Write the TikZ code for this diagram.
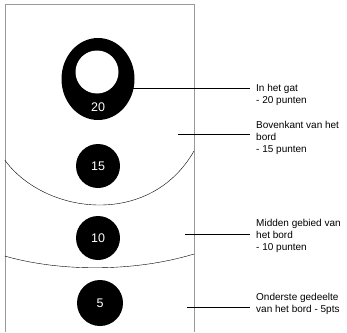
\documentclass[tikz,border=0pt]{standalone}
\usepackage{fontspec}
\setmainfont{Liberation Sans}
\usetikzlibrary{shapes.geometric}

\begin{document}
\begin{tikzpicture}[x=1pt,y=-1pt,
  schijf/.style={circle,fill=black,minimum size=44pt,inner sep=0pt,text=white,font=\fontsize{12.5}{14}\selectfont},
  uitleg/.style={anchor=north west,align=left,inner sep=0pt,font=\fontsize{10}{12}\selectfont},
  wijzer/.style={line width=1pt,shorten >=6pt}]

\useasboundingbox (0,0) rectangle (347,332);

% bord
\draw[black!40] (4.7,332) -- (4.7,4) -- (194,4) -- (194,332);
\draw (4.7,160) .. controls (45,215) and (150,228) .. (194,151);
\draw (4.7,256) .. controls (60,272) and (135,272) .. (194,254);

% gat en schijven
\node[ellipse,fill=black,minimum width=73pt,minimum height=82pt,inner sep=0pt] (ring20) at (98,79) {};
\node[circle,fill=white,minimum size=43pt,inner sep=0pt] (gat) at (97,72) {};
\node[text=white,font=\fontsize{12.5}{14}\selectfont] (n20) at (98,107) {20};
\node[schijf] (n15) at (98,166) {15};
\node[schijf] (n10) at (98,238) {10};
\node[schijf,minimum size=46pt] (n5) at (100,303) {5};

% uitleg
\node[uitleg] (l20) at (256,84) {In het gat\\- 20 punten};
\node[uitleg] (l15) at (256,121) {Bovenkant van het\\bord\\- 15 punten};
\node[uitleg] (l10) at (256,219) {Midden gebied van\\het bord\\- 10 punten};
\node[uitleg] (l5) at (256,293) {Onderste gedeelte\\van het bord - 5pts};

\coordinate (p20) at (133,88);
\coordinate (p15) at (178,134);
\coordinate (p10) at (185,234);
\coordinate (p5) at (187,307);
\draw[wijzer] (p20) -- (p20 -| l20.west);
\draw[wijzer] (p15) -- (p15 -| l15.west);
\draw[wijzer] (p10) -- (p10 -| l10.west);
\draw[wijzer] (p5) -- (p5 -| l5.west);

\end{tikzpicture}
\end{document}
